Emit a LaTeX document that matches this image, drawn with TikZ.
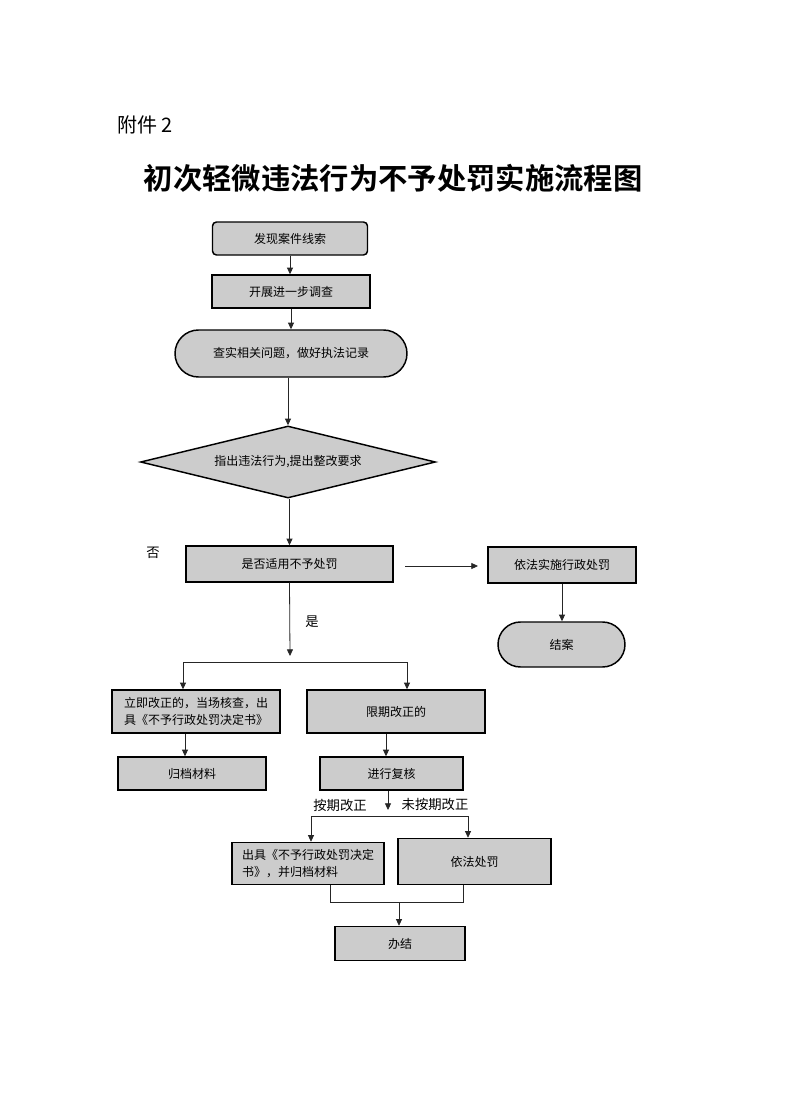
\documentclass[tikz,border=0pt]{standalone}
\usepackage{fontspec}
\setmainfont{Noto Sans CJK SC}[BoldFont={Noto Sans CJK SC Bold}]
\usetikzlibrary{shapes.geometric,shapes.misc,arrows.meta}
\begin{document}
\begin{tikzpicture}[x=0.75pt,y=-0.75pt,
  sz/.style 2 args={minimum width=#1*0.75pt, minimum height=#2*0.75pt},
  box/.style={draw=black, line width=1.1pt, fill=black!20, inner sep=0pt,
    font=\fontsize{9}{13}\selectfont, align=center},
  stadium/.style={box, rounded rectangle},
  arr/.style={draw=black!85, line width=0.6pt, -{Triangle[length=5pt,width=4.5pt]}},
  ln/.style={draw=black!85, line width=0.6pt},
  lbl/.style={font=\fontsize{10}{12}\selectfont, inner sep=0pt}]
\useasboundingbox (0,0) rectangle (789,1117);
\fill[white] (0,0) rectangle (789,1117);

\node[inner sep=0pt, anchor=west, font=\fontsize{15}{18}\selectfont] (att) at (117,125) {附件 2};
\node[inner sep=0pt, font=\bfseries\fontsize{22}{26}\selectfont] (title) at (393,178) {初次轻微违法行为不予处罚实施流程图};

\node[box, sz={155}{33}, rounded corners=3pt] (b1) at (290,238.5) {发现案件线索};
\node[box, sz={158}{33}] (b2) at (291,291.5) {开展进一步调查};
\node[stadium, sz={232}{47}] (st1) at (291,353.5) {查实相关问题，做好执法记录};
\node[box, diamond, aspect=4.1, sz={295}{72}] (dia) at (288,462) {指出违法行为,提出整改要求};
\node[box, sz={207}{36}] (q) at (289.5,564) {是否适用不予处罚};
\node[box, sz={148}{36}] (pen) at (562,565) {依法实施行政处罚};
\node[stadium, sz={127}{45}] (end1) at (561.5,644.5) {结案};
\node[box, sz={168}{43}, align=left] (imm) at (196,711.5) {立即改正的，当场核查，出\\具《不予行政处罚决定书》};
\node[box, sz={178}{43}] (lim) at (396,711.5) {限期改正的};
\node[box, sz={148}{33}] (arch) at (192,773.5) {归档材料};
\node[box, sz={143}{33}] (rev) at (391.5,773.5) {进行复核};
\node[box, sz={152}{42}, align=left] (iss) at (308,863.5) {出具《不予行政处罚决定\\书》，并归档材料};
\node[box, sz={153}{46}] (pun) at (474.5,861.5) {依法处罚};
\node[box, sz={130}{34}] (done) at (400,943.5) {办结};

\node[lbl] (no) at (153,553) {否};
\node[lbl] (yes) at (312,622) {是};
\node[lbl] (ontime) at (340,805) {按期改正};
\node[lbl] (late) at (435,804) {未按期改正};

% coordinates
\coordinate (s1) at (290,656);
\coordinate (h1) at (183,662);
\coordinate (h2) at (407,662);
\coordinate (xa) at (185,0);
\coordinate (xb) at (386,0);
\coordinate (s2) at (388,810);
\coordinate (k1) at (311,816);
\coordinate (k2) at (468,816);
\coordinate (m1) at (330,902);
\coordinate (m2) at (463,902);
\coordinate (m0) at (399,902);
\coordinate (qa) at (405,566);
\coordinate (qb) at (478,566);

% connectors
\draw[arr] (b1.south) -- (b1.south |- b2.north);
\draw[arr] (b2.south) -- (b2.south |- st1.north);
\draw[arr] (dia.north |- st1.south) -- (dia.north);
\draw[arr] (q.north |- dia.south) -- (q.north);
\draw[arr] (qa) -- (qb);
\draw[arr] (pen.south) -- (pen.south |- end1.north);
\draw[arr] (q.south) -- (s1);
\draw[ln] (h1) -- (h2);
\draw[arr] (h1) -- (h1 |- imm.north);
\draw[arr] (h2) -- (h2 |- lim.north);
\draw[arr] (xa |- imm.south) -- (xa |- arch.north);
\draw[arr] (xb |- lim.south) -- (xb |- rev.north);
\draw[arr] (s2 |- rev.south) -- (s2);
\draw[ln] (k1) -- (k2);
\draw[arr] (k1) -- (k1 |- iss.north);
\draw[arr] (k2) -- (k2 |- pun.north);
\draw[ln] (m1 |- iss.south) -- (m1) -- (m2) -- (m2 |- pun.south);
\draw[arr] (m0) -- (m0 |- done.north);
\end{tikzpicture}
\end{document}
